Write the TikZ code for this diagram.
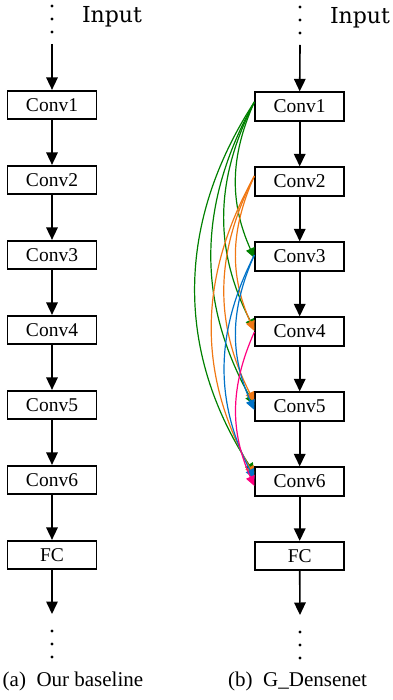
\documentclass[tikz,border=0pt]{standalone}
\usepackage{fontspec}
\setmainfont{Liberation Serif}
\newfontfamily\inputfont{DejaVu Serif}
\usetikzlibrary{arrows.meta}
\definecolor{cgreen}{RGB}{0,128,0}
\definecolor{corange}{RGB}{240,120,20}
\definecolor{cblue}{RGB}{0,114,200}
\definecolor{cpink}{RGB}{255,0,128}
\begin{document}
\begin{tikzpicture}[x=1pt,y=-1pt,
  layer/.style={draw, line width=1.7pt, minimum width=89pt, minimum height=28.5pt, inner sep=0pt,
    font=\fontsize{19.5}{19.5}\selectfont},
  flow/.style={line width=1.6pt, -{Triangle[length=12.5pt,width=11.5pt]}},
  skip/.style={line width=1.2pt, -{Triangle[length=10pt,width=9pt]}},
  dot/.style={circle, fill, inner sep=0pt, minimum size=3.2pt},
  inlabel/.style={anchor=base, inner sep=0pt, font=\inputfont\fontsize{22}{22}\selectfont},
  caption/.style={anchor=base west, inner sep=0pt, font=\fontsize{21}{21}\selectfont}
]
\useasboundingbox (0,0) rectangle (392,700);

% ---------- left column ----------
\node[dot] (at1) at (52,6) {};
\node[dot] (at2) at (52,19) {};
\node[dot] (at3) at (52,32) {};
\node[inlabel] (ain) at (112,23) {Input};
\coordinate (as) at (52,44);
\node[layer] (a1) at (52,105) {Conv1};
\node[layer] (a2) at (52,180) {Conv2};
\node[layer] (a3) at (52,255) {Conv3};
\node[layer] (a4) at (52,330) {Conv4};
\node[layer] (a5) at (52,405) {Conv5};
\node[layer] (a6) at (52,480) {Conv6};
\node[layer] (a7) at (52,555) {FC};
\coordinate (ae) at (52,614);
\node[dot] (ab1) at (52,631) {};
\node[dot] (ab2) at (52,644) {};
\node[dot] (ab3) at (52,657) {};
\draw[flow] (as) -- (a1.north);
\draw[flow] (a1) -- (a2);
\draw[flow] (a2) -- (a3);
\draw[flow] (a3) -- (a4);
\draw[flow] (a4) -- (a5);
\draw[flow] (a5) -- (a6);
\draw[flow] (a6) -- (a7);
\draw[flow] (a7.south) -- (ae);
\node[caption] (capa) at (2.5,686) {(a)\hspace{0.25em} Our baseline};

% ---------- right column ----------
\node[dot] (bt1) at (300,7) {};
\node[dot] (bt2) at (300,20) {};
\node[dot] (bt3) at (300,33) {};
\node[inlabel] (bin) at (360,24) {Input};
\coordinate (bs) at (300,45);
\node[layer] (b1) at (299.7,106.5) {Conv1};
\node[layer] (b2) at (299.7,181.5) {Conv2};
\node[layer] (b3) at (299.7,256.5) {Conv3};
\node[layer] (b4) at (299.7,331.5) {Conv4};
\node[layer] (b5) at (299.7,406.5) {Conv5};
\node[layer] (b6) at (299.7,481.5) {Conv6};
\node[layer] (b7) at (299.7,556) {FC};
\coordinate (be) at (300,615);
\node[dot] (bb1) at (300,632) {};
\node[dot] (bb2) at (300,645) {};
\node[dot] (bb3) at (300,658) {};
\draw[flow] (bs) -- (b1.north);
\draw[flow] (b1) -- (b2);
\draw[flow] (b2) -- (b3);
\draw[flow] (b3) -- (b4);
\draw[flow] (b4) -- (b5);
\draw[flow] (b5) -- (b6);
\draw[flow] (b6) -- (b7);
\draw[flow] (b7.south) -- (be);
\node[caption] (capb) at (228,686) {(b)\hspace{0.25em} G\_Densenet};

% ---------- dense connections ----------
\draw[skip, cgreen] ([yshift=4.5pt]b1.west) to[bend right=24] ([yshift=-1.5pt]b3.west);
\draw[skip, cgreen] ([yshift=4.5pt]b1.west) to[bend right=27] ([yshift=2.5pt]b4.west);
\draw[skip, cgreen] ([yshift=4.5pt]b1.west) to[bend right=29] ([yshift=1.5pt]b5.west);
\draw[skip, cgreen] ([yshift=4.5pt]b1.west) to[bend right=33] ([yshift=8.5pt]b6.west);

\draw[skip, corange] ([yshift=5.5pt]b2.west) to[bend right=24] ([yshift=0.5pt]b4.west);
\draw[skip, corange] ([yshift=5.5pt]b2.west) to[bend right=27] ([yshift=4.5pt]b5.west);
\draw[skip, corange] ([yshift=5.5pt]b2.west) to[bend right=29] ([yshift=5.5pt]b6.west);

\draw[skip, cblue] ([yshift=1.5pt]b3.west) to[bend right=24] ([yshift=-3.5pt]b5.west);
\draw[skip, cblue] ([yshift=1.5pt]b3.west) to[bend right=27] ([yshift=2.5pt]b6.west);

\draw[skip, cpink] ([yshift=-0.5pt]b4.west) to[bend right=24] ([yshift=-4.5pt]b6.west);
\end{tikzpicture}
\end{document}
